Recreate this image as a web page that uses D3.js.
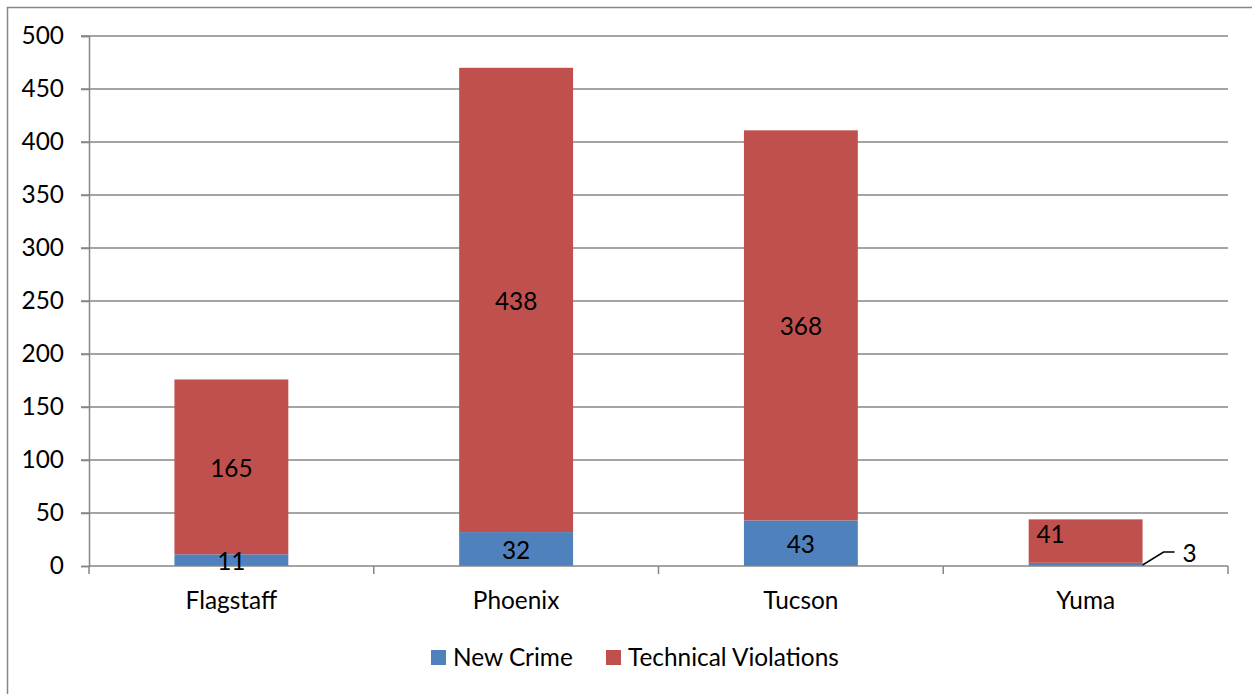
<!DOCTYPE html>
<html><head><meta charset="utf-8">
<script src="https://cdn.jsdelivr.net/npm/d3@7"></script>
<style>body{margin:0;background:#fff}svg{display:block}text{font-family:Lato,"Open Sans",sans-serif}</style>
</head><body><svg id="c" width="1252" height="694"></svg>
<script>
const categories = ["Flagstaff","Phoenix","Tucson","Yuma"];
const newCrime = [11,32,43,3];
const technical = [165,438,368,41];
const seriesNames = ["New Crime","Technical Violations"];
const yTicks = [0,50,100,150,200,250,300,350,400,450,500];
const colors = ["#4F81BD","#C0504D"];
const FS = 24.4;

const svg = d3.select("#c");
const m = {l:89, r:1228, t:36, b:566};
svg.append("rect").attr("x",7.5).attr("y",7.5).attr("width",1260).attr("height",700)
  .attr("fill","none").attr("stroke","#868686").attr("stroke-width",1.5);

const x = d3.scaleBand().domain(categories).range([m.l,m.r]).paddingInner(0.6).paddingOuter(0.3);
const y = d3.scaleLinear().domain([0,500]).range([m.b,m.t]);

// gridlines
svg.append("g").selectAll("line").data(yTicks.filter(d=>d>0)).join("line")
  .attr("x1",m.l-8).attr("x2",m.r).attr("y1",d=>y(d)).attr("y2",d=>y(d))
  .attr("stroke","#868686").attr("stroke-width",1.5);

const yAxis = svg.append("g").attr("transform",`translate(${m.l},0)`)
  .call(d3.axisLeft(y).tickValues(yTicks).tickSize(8).tickPadding(17));
yAxis.select(".domain").attr("stroke","#868686").attr("stroke-width",1.5);
yAxis.selectAll(".tick line").attr("stroke","#868686").attr("stroke-width",1.5);
yAxis.selectAll("text").attr("font-size",FS).attr("fill","#000").attr("font-family","Lato");

const stack = d3.stack().keys([0,1]).value((d,k)=>d[k]);
const rows = categories.map((c,i)=>({cat:c,0:newCrime[i],1:technical[i]}));
const stacked = stack(rows);

stacked.forEach((s,k)=>{
  svg.append("g").selectAll("rect").data(s).join("rect")
    .attr("x",d=>x(d.data.cat)).attr("width",x.bandwidth())
    .attr("y",d=>y(d[1])).attr("height",d=>y(d[0])-y(d[1]))
    .attr("fill",colors[k]);
});

// x axis
const xAxisScale = d3.scalePoint().domain(d3.range(5)).range([m.l,m.r]);
const xg = svg.append("g");
xg.append("line").attr("x1",m.l).attr("x2",m.r).attr("y1",m.b).attr("y2",m.b)
  .attr("stroke","#868686").attr("stroke-width",1.5);
xg.selectAll("line.t").data(d3.range(5)).join("line").attr("class","t")
  .attr("x1",d=>xAxisScale(d)).attr("x2",d=>xAxisScale(d)).attr("y1",m.b).attr("y2",m.b+8)
  .attr("stroke","#868686").attr("stroke-width",1.5);
xg.selectAll("text").data(categories).join("text")
  .attr("x",d=>x(d)+x.bandwidth()/2).attr("y",600).attr("dy","0.35em").attr("text-anchor","middle")
  .attr("font-size",FS).attr("fill","#000").text(d=>d);

// labels
stacked.forEach((s,k)=>{
  s.forEach((d,i)=>{
    const cx = x(d.data.cat)+x.bandwidth()/2;
    const val = d.data[k];
    if (d.data.cat==="Yuma" && k===0){
      const x0 = x(d.data.cat)+x.bandwidth();
      svg.append("path").attr("d",`M${x0},${y(0)-1}L${x0+21},${y(0)-14}L${x0+32},${y(0)-14}`)
        .attr("fill","none").attr("stroke","#000").attr("stroke-width",1.5);
      svg.append("text").attr("x",x0+40).attr("y",y(0)-13).attr("dy","0.35em")
        .attr("font-size",FS).attr("fill","#000").text(val);
      return;
    }
    let dx = 0, dy = 1.5;
    if (d.data.cat==="Yuma" && k===1){ dx = -35; dy = -7; }
    svg.append("text").attr("x",cx+dx).attr("y",(y(d[0])+y(d[1]))/2+dy).attr("dy","0.35em")
      .attr("text-anchor","middle").attr("font-size",FS).attr("fill","#000").text(val);
  });
});

// legend
const leg = svg.append("g");
const items = [{x:431},{x:606}];
seriesNames.forEach((n,i)=>{
  leg.append("rect").attr("x",items[i].x).attr("y",650).attr("width",15).attr("height",15).attr("fill",colors[i]);
  leg.append("text").attr("x",items[i].x+22).attr("y",657.5).attr("dy","0.35em")
    .attr("font-size",FS).attr("fill","#000").text(n);
});
</script></body></html>
